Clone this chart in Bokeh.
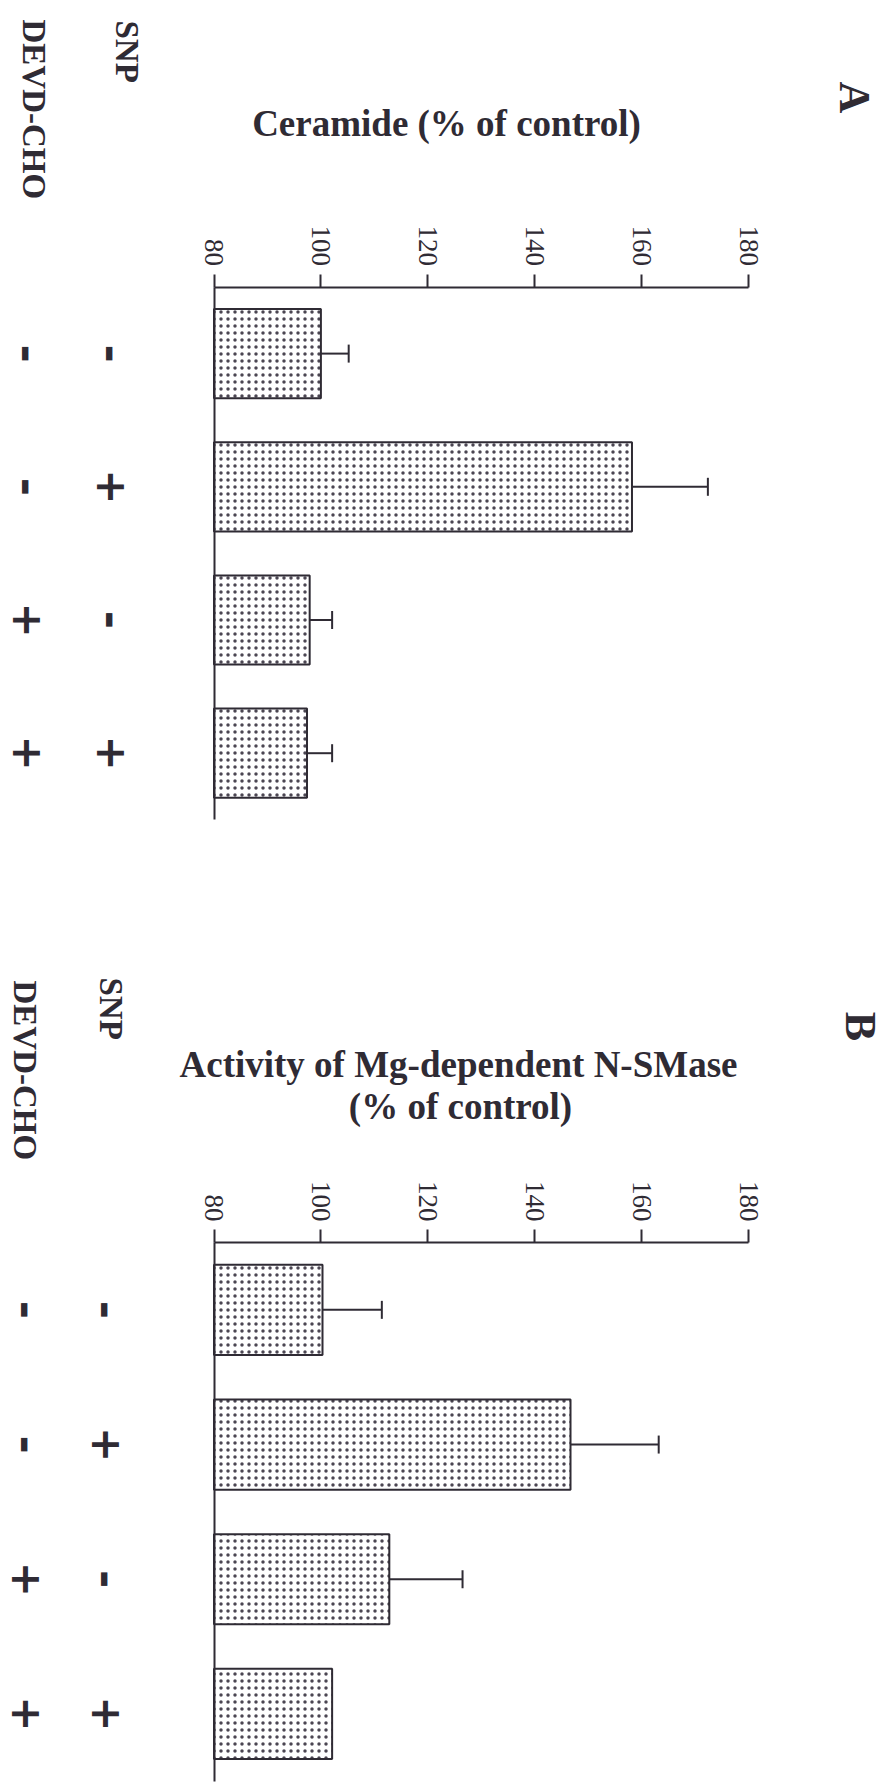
import math

from bokeh.embed import file_html
from bokeh.layouts import column
from bokeh.models import (ColumnDataSource, FixedTicker, Label, LinearAxis,
                          Range1d, TeeHead, Whisker)
from bokeh.plotting import figure
from bokeh.resources import INLINE

# ---- data -------------------------------------------------------------
treatments = ["control", "SNP", "DEVD-CHO", "SNP + DEVD-CHO"]
snp_signs = ["-", "+", "-", "+"]
devd_signs = ["-", "-", "+", "+"]

ceramide_mean = [100.0, 158.2, 97.9, 97.4]
ceramide_err = [5.2, 14.2, 4.2, 4.7]

nsmase_mean = [100.3, 146.7, 112.8, 102.1]
nsmase_err = [11.1, 16.5, 13.7, 0.0]

value_ticks = [80, 100, 120, 140, 160, 180]
value_floor = 80

# ---- styling ----------------------------------------------------------
W, H = 889, 893
INK = "#2f2b34"
SERIF = "Liberation Serif"
SIGN_FONT = "DejaVu Sans"
CW = -math.pi / 2  # clockwise quarter turn

# pixel placement of the value scale (80 -> PX0, 180 -> PX1)
PX0, PX1 = 213.5, 748.0


def make_panel(letter, letter_xy, title_lines, means, errs, axis_px, pitch,
               snp_head, devd_head, sign_x):
    unit = (PX1 - PX0) / (value_ticks[-1] - value_ticks[0])
    x0 = value_floor - PX0 / unit
    x1 = value_ticks[-1] + (W - PX1) / unit
    y_top = -0.5 - axis_px / pitch
    y_bot = -0.5 + (H - axis_px) / pitch

    p = figure(width=W, height=H, x_range=Range1d(x0, x1),
               y_range=Range1d(y_bot, y_top), output_backend="svg",
               toolbar_location=None, x_axis_location=None,
               y_axis_location=None, min_border=0, outline_line_color=None,
               background_fill_color="white", border_fill_color="white")
    p.xgrid.grid_line_color = None
    p.ygrid.grid_line_color = None

    idx = list(range(len(treatments)))
    src = ColumnDataSource(dict(y=idx, mean=means, name=treatments))
    p.hbar(y="y", left=value_floor, right="mean", height=0.67, source=src,
           fill_color="white", line_color=INK, line_width=2,
           hatch_pattern="dot", hatch_color="#4b4652", hatch_scale=7,
           hatch_weight=2.0)

    # one-sided error bars (upper side only)
    keep = [i for i in idx if errs[i] > 0]
    wsrc = ColumnDataSource(dict(
        y=[idx[i] for i in keep],
        lower=[means[i] for i in keep],
        upper=[means[i] + errs[i] for i in keep]))
    p.add_layout(Whisker(source=wsrc, base="y", lower="lower", upper="upper",
                         dimension="width", line_color=INK, line_width=2,
                         lower_head=None,
                         upper_head=TeeHead(size=18, line_color=INK,
                                            line_width=2)))

    # value axis along the top of the bars
    vax = LinearAxis(fixed_location=-0.5, ticker=FixedTicker(ticks=value_ticks),
                     bounds=(value_ticks[0], value_ticks[-1]),
                     axis_line_color=INK, axis_line_width=2,
                     major_tick_line_color=INK, major_tick_line_width=2,
                     major_tick_out=13, major_tick_in=0,
                     minor_tick_line_color=None,
                     major_label_orientation=CW, major_label_standoff=8,
                     major_label_text_font=SERIF,
                     major_label_text_font_size="27px",
                     major_label_text_color=INK)
    p.add_layout(vax, "above")

    # baseline of the bars
    bax = LinearAxis(fixed_location=value_floor, ticker=FixedTicker(ticks=[]),
                     bounds=(-0.5, len(treatments) - 0.5),
                     axis_line_color=INK, axis_line_width=2,
                     major_tick_line_color=None, minor_tick_line_color=None,
                     major_label_text_font_size="0px")
    p.add_layout(bax, "left")

    def sy(px):
        return H - px

    p.add_layout(Label(x=letter_xy[0], y=sy(letter_xy[1]), x_units="screen",
                       y_units="screen", text=letter, angle=CW,
                       text_align="center", text_baseline="middle",
                       text_font=SERIF, text_font_style="bold",
                       text_font_size="44px", text_color=INK))

    for (tx, ty), line in title_lines:
        p.add_layout(Label(x=tx, y=sy(ty), x_units="screen", y_units="screen",
                           text=line, text_align="center",
                           text_baseline="middle", text_font=SERIF,
                           text_font_style="bold", text_font_size="37px",
                           text_color=INK))

    for (hx, hy), head in ((snp_head, "SNP"), (devd_head, "DEVD-CHO")):
        p.add_layout(Label(x=hx, y=sy(hy), x_units="screen", y_units="screen",
                           text=head, angle=CW, text_align="left",
                           text_baseline="middle", text_font=SERIF,
                           text_font_style="bold", text_font_size="33px",
                           text_color=INK))

    for col_x, signs in zip(sign_x, (snp_signs, devd_signs)):
        for i, s in enumerate(signs):
            minus = s == "-"
            p.add_layout(Label(x=col_x, y=i, x_units="screen", y_units="data",
                               text=s, angle=CW, text_align="center",
                               text_baseline="middle", text_font=SIGN_FONT,
                               text_font_style="bold",
                               text_font_size="44px" if minus else "42px",
                               text_color=INK))
    return p


pA = make_panel("A", (854, 97),
                [((446, 123), "Ceramide (% of control)")],
                ceramide_mean, ceramide_err, axis_px=286.5, pitch=133.2,
                snp_head=(126, 20), devd_head=(33, 19), sign_x=(112, 28))

pB = make_panel("B", (860, 133),
                [((458, 171), "Activity of Mg-dependent N-SMase"),
                 ((460, 213), "(% of control)")],
                nsmase_mean, nsmase_err, axis_px=349.0, pitch=134.7,
                snp_head=(110, 84), devd_head=(24, 87), sign_x=(107, 27))

layout = column(pA, pB, spacing=0)

with open("out.html", "w") as f:
    f.write(file_html(layout, INLINE))
